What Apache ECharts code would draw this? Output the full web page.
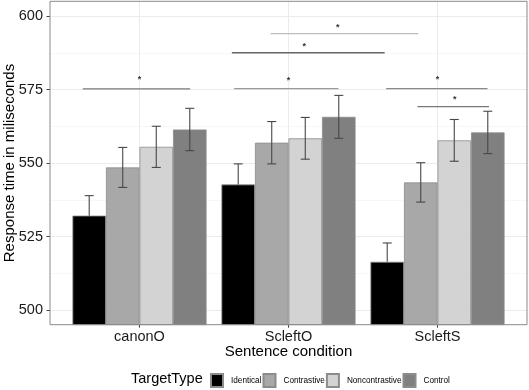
<!DOCTYPE html>
<html><head><meta charset="utf-8">
<script src="https://cdn.jsdelivr.net/npm/echarts@6/dist/echarts.min.js"></script>
<style>html,body{margin:0;padding:0;background:#fff}#c{width:529px;height:390px}</style>
</head><body><div id="c"></div>
<script>
const categories = ['canonO', 'ScleftO', 'ScleftS'];
const targetTypes = ['Identical', 'Contrastive', 'Noncontrastive', 'Control'];
const identicalMean = [532.1, 542.7, 516.4];
const contrastiveMean = [548.5, 556.9, 543.4];
const noncontrastiveMean = [555.5, 558.4, 557.7];
const controlMean = [561.4, 565.7, 560.4];
const identicalSE = [6.8, 7.0, 6.4];
const contrastiveSE = [6.8, 7.2, 6.7];
const noncontrastiveSE = [7.0, 7.1, 7.1];
const controlSE = [7.2, 7.3, 7.2];
const yTicks = [500, 525, 550, 575, 600];
// significance brackets (x in group units: 1 = canonO, 2 = ScleftO, 3 = ScleftS)
const sigStart = [0.62, 1.635, 1.62, 1.88, 2.655, 2.865];
const sigEnd = [1.34, 2.335, 2.645, 2.87, 3.335, 3.345];
const sigLevel = [575.2, 575.3, 587.5, 594.0, 575.3, 569.2];
const starX = [1.0, 2.0, 2.105, 2.33, 3.0, 3.115];
const starY = [578.5, 578.2, 589.6, 596.0, 578.3, 571.7];
const sigLabel = ['*', '*', '*', '*', '*', '*'];

const FONT = 'Liberation Sans, Arial, sans-serif';
const fills = ['#000000', '#a8a8a8', '#d3d3d3', '#808080'];
const sigColors = ['#7a7a7a', '#9a9a9a', '#666666', '#bdbdbd', '#8a8a8a', '#777777'];
const means = [identicalMean, contrastiveMean, noncontrastiveMean, controlMean];
const ses = [identicalSE, contrastiveSE, noncontrastiveSE, controlSE];

const chart = echarts.init(document.getElementById('c'), null, {renderer: 'canvas'});

const yStep = yTicks[1] - yTicks[0];
const PANEL = {left: 50, right: 2, top: 1.3, bottom: 65.3};

const series = [];
// vertical major gridlines at category centres
series.push({
  type: 'line', xAxisIndex: 2, yAxisIndex: 2, data: [], z: 1, silent: true,
  markLine: {
    silent: true, z: 1, symbol: ['none', 'none'], animation: false,
    label: {show: false},
    lineStyle: {color: '#ebebeb', type: 'solid', width: 1},
    data: categories.map(c => ({xAxis: c}))
  }
});
targetTypes.forEach((t, k) => {
  series.push({
    type: 'bar', name: t, xAxisIndex: 2, yAxisIndex: 2, z: 2,
    data: means[k],
    barGap: '0%', barCategoryGap: '10%',
    itemStyle: {color: fills[k], borderColor: '#8c8c8c', borderWidth: 0.8},
    emphasis: {disabled: true}
  });
});
targetTypes.forEach((t, k) => {
  series.push({
    type: 'custom', xAxisIndex: 2, yAxisIndex: 2, z: 3, silent: true,
    data: means[k].map((m, i) => [i, m - ses[k][i], m + ses[k][i], m]),
    encode: {x: 0, y: [1, 2]},
    renderItem(params, api) {
      const band = api.size([1, 0])[0];
      const off = (k - 1.5) * band * 0.225;
      const lo = api.coord([api.value(0), api.value(1)]);
      const hi = api.coord([api.value(0), api.value(2)]);
      const mid = api.coord([api.value(0), api.value(3)]);
      const x = lo[0] + off, cw = 4.5;
      const st = {stroke: '#474747', lineWidth: 1.1};
      // the part inside the black bar is not visible in the reference
      const dark = k === 0;
      const children = [
        {type: 'line', shape: {x1: x, y1: dark ? mid[1] : lo[1], x2: x, y2: hi[1]}, style: st},
        {type: 'line', shape: {x1: x - cw, y1: hi[1], x2: x + cw, y2: hi[1]}, style: st}
      ];
      if (!dark) children.push({type: 'line', shape: {x1: x - cw, y1: lo[1], x2: x + cw, y2: lo[1]}, style: st});
      return {type: 'group', children};
    }
  });
});
sigStart.forEach((s, i) => {
  series.push({
    type: 'line', xAxisIndex: 0, yAxisIndex: 0, z: 4, silent: true,
    symbol: 'none', animation: false,
    lineStyle: {color: sigColors[i], width: 1.3},
    data: [[s, sigLevel[i]], [sigEnd[i], sigLevel[i]]]
  });
});
series.push({
  type: 'scatter', xAxisIndex: 0, yAxisIndex: 0, z: 4, silent: true,
  symbolSize: 0,
  data: starX.map((x, i) => [x, starY[i], sigLabel[i]]),
  label: {show: true, position: 'inside', formatter: p => p.data[2],
    fontSize: 9, fontWeight: 'bold', color: '#000', fontFamily: FONT}
});

chart.setOption({
  animation: false,
  backgroundColor: '#ffffff',
  title: {
    text: 'TargetType', left: 131, top: 371, padding: 0,
    textStyle: {fontSize: 14.5, fontWeight: 'normal', color: '#000', fontFamily: FONT}
  },
  legend: {
    data: targetTypes, left: 210, top: 373, padding: 0,
    itemWidth: 12, itemHeight: 13, itemGap: 1, icon: 'rect',
    textStyle: {fontSize: 8.2, color: '#000', fontFamily: FONT, padding: [0, 0, 0, 3]}
  },
  grid: [
    Object.assign({show: true, borderColor: '#8a8a8a', borderWidth: 1, backgroundColor: 'transparent', z: 10}, PANEL),
    {left: 50, right: 2, top: 16, bottom: 80, outerBoundsMode: 'none'},
    {left: 65, right: 17, top: PANEL.top, bottom: PANEL.bottom}
  ],
  xAxis: [
    {type: 'value', gridIndex: 0, min: 0.4, max: 3.6, show: false},
    {type: 'value', gridIndex: 1, min: 0.4, max: 3.6, show: false},
    {type: 'category', gridIndex: 2, data: categories,
      axisLine: {show: false},
      axisTick: {show: true, alignWithLabel: true, length: 3, lineStyle: {color: '#444'}},
      axisLabel: {margin: 5, fontSize: 14.5, color: '#1a1a1a', fontFamily: FONT},
      splitLine: {show: false},
      name: 'Sentence condition', nameLocation: 'middle', nameGap: 20, nameMoveOverlap: false,
      nameTextStyle: {fontSize: 15, color: '#000', fontFamily: FONT}
    }
  ],
  yAxis: [
    {type: 'value', gridIndex: 0, min: 495, max: 605, show: false},
    {type: 'value', gridIndex: 1, min: yTicks[0], max: yTicks[yTicks.length - 1], interval: yStep,
      axisLine: {show: false},
      axisTick: {show: true, length: 3.5, lineStyle: {color: '#444', width: 1}},
      axisLabel: {margin: 7, fontSize: 14.5, color: '#1a1a1a', fontFamily: FONT},
      splitLine: {show: true, lineStyle: {color: '#ebebeb', width: 1}},
      minorTick: {show: false, splitNumber: 2},
      minorSplitLine: {show: true, lineStyle: {color: '#f3f3f3', width: 0.7}},
      name: 'Response time in miliseconds', nameLocation: 'middle', nameGap: 33, nameMoveOverlap: false,
      nameRotate: 90,
      nameTextStyle: {fontSize: 15, color: '#000', fontFamily: FONT}
    },
    {type: 'value', gridIndex: 2, min: 495, max: 605, show: false}
  ],
  series: series
});
</script>
</body></html>
